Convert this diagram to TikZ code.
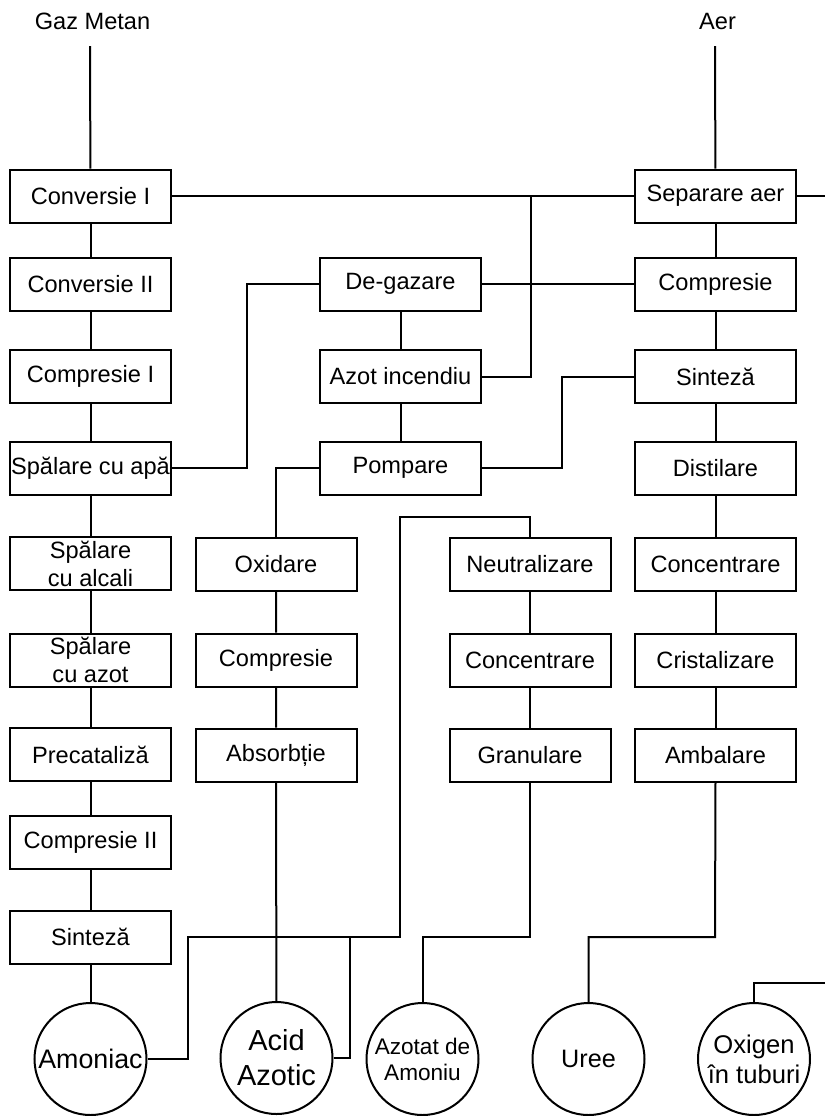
\documentclass[tikz,border=0pt]{standalone}
\usepackage{fontspec}
\setmainfont{Liberation Sans}
\begin{document}
\begin{tikzpicture}[x=0.5pt,y=-0.5pt,line width=1pt,
  box/.style={draw,rectangle,minimum width=80.5pt,minimum height=26.5pt,inner sep=0pt,align=center,font=\fontsize{11.8}{14}\selectfont},
  prod/.style={draw,circle,minimum size=56pt,inner sep=0pt,align=center},
  lbl/.style={font=\fontsize{11.8}{14}\selectfont}]
\useasboundingbox (0,0) rectangle (825,1116);
% titles
\node[lbl] (gm) at (92.5,21) {Gaz Metan};
\node[lbl] (aer) at (717.5,21) {Aer};
\coordinate (gmtop) at (90,46);
\coordinate (aertop) at (715,46);
% left column
\node[box] (c1) at (90.5,196) {Conversie I};
\node[box] (c2) at (90.5,284) {Conversie II};
\node[box] (cp1) at (90.5,376.5) {Compresie I};
\node[box] (spa) at (90.5,468) {Spălare cu apă};
\node[box] (spal) at (90.5,563.5) {Spălare\\cu alcali};
\node[box] (spaz) at (90.5,660) {Spălare\\cu azot};
\node[box] (prec) at (90.5,754.5) {Precataliză};
\node[box] (cp2) at (90.5,842.5) {Compresie II};
\node[box] (sin1) at (90.5,937) {Sinteză};
% second column
\node[box] (deg) at (400.5,284) {De-gazare};
\node[box] (azi) at (400.5,376.5) {Azot incendiu};
\node[box] (pomp) at (400.5,468) {Pompare};
% third column
\node[box] (oxid) at (276,564) {Oxidare};
\node[box] (cp3) at (276,660) {Compresie};
\node[box] (abs) at (276,755) {Absorbție};
% fourth column
\node[box] (neut) at (530,564) {Neutralizare};
\node[box] (conc1) at (530,660) {Concentrare};
\node[box] (gran) at (530,755) {Granulare};
% right column
\node[box] (sep) at (715.5,196) {Separare aer};
\node[box] (cp4) at (715.5,284) {Compresie};
\node[box] (sin2) at (715.5,376.5) {Sinteză};
\node[box] (dist) at (715.5,468) {Distilare};
\node[box] (conc2) at (715.5,564) {Concentrare};
\node[box] (crist) at (715.5,660) {Cristalizare};
\node[box] (amb) at (715.5,755) {Ambalare};
% products
\node[prod,font=\fontsize{13.4}{16}\selectfont] (amon) at (90.5,1059) {Amoniac};
\node[prod,font=\fontsize{14.5}{17.5}\selectfont] (acid) at (276.5,1058) {Acid\\Azotic};
\node[prod,font=\fontsize{11.3}{13}\selectfont] (azam) at (422.5,1059) {Azotat de\\Amoniu};
\node[prod,font=\fontsize{12.6}{15}\selectfont] (uree) at (588.5,1059) {Uree};
\node[prod,font=\fontsize{12.8}{15}\selectfont] (oxi) at (754,1059) {Oxigen\\în tuburi};
\coordinate (sepout) at (825,196);
\coordinate (oxiout) at (825,983);
% chains
\draw (gmtop) -- (c1);
\draw (c1) -- (c2) -- (cp1) -- (spa) -- (spal) -- (spaz) -- (prec) -- (cp2) -- (sin1) -- (amon);
\draw (aertop) -- (sep);
\draw (sep) -- (cp4) -- (sin2) -- (dist) -- (conc2) -- (crist) -- (amb);
\draw (deg) -- (azi) -- (pomp);
\draw (oxid) -- (cp3) -- (abs) -- (acid);
\draw (neut) -- (conc1) -- (gran);
% cross connections
\draw (c1) -- (sep);
\draw (sep.east) -- (sepout);
\draw (azi.east) -| (531,196);
\draw (deg.east) -- (cp4.west);
\draw (deg.west) -- ++(-72,0) |- (spa.east);
\draw (pomp.east) -- ++(80,0) |- (sin2.west);
\draw (pomp.west) -| (oxid.north);
\draw (amon.east) -| (188,937) -| (400,517) -| (neut.north);
\draw (acid.east) -| (350,937);
\draw (gran.south) -- (530,937) -| (azam.north);
\draw (amb.south) -- (715,937) -| (uree.north);
\draw (oxi.north) |- (oxiout);
\end{tikzpicture}
\end{document}
